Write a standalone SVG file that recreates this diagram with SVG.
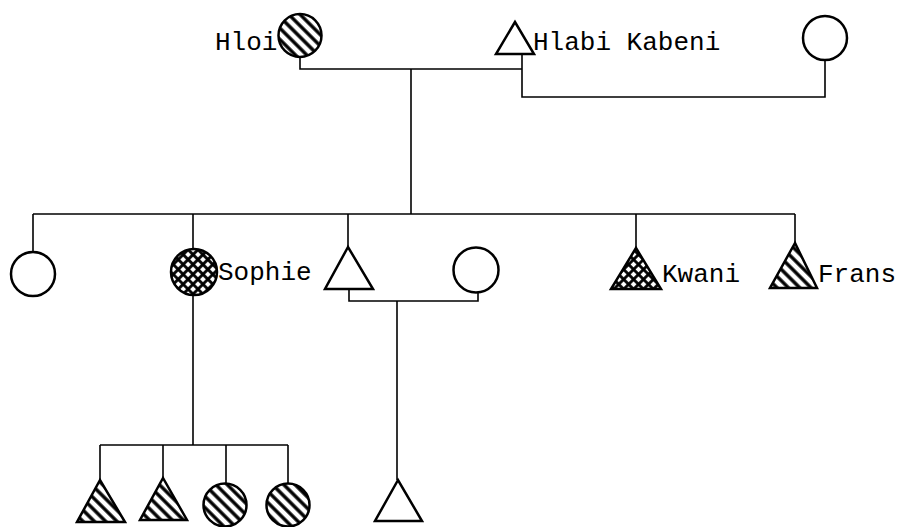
<svg xmlns="http://www.w3.org/2000/svg" width="898" height="527" viewBox="0 0 898 527">
  <defs>
    <pattern id="hatch" patternUnits="userSpaceOnUse" width="8" height="8" patternTransform="rotate(-45)">
      <rect width="8" height="8" fill="#fff"/>
      <line x1="2" y1="0" x2="2" y2="8" stroke="#000" stroke-width="3.4"/>
    </pattern>
    <pattern id="cross" patternUnits="userSpaceOnUse" width="7" height="7" patternTransform="rotate(45)">
      <rect width="7" height="7" fill="#fff"/>
      <line x1="1.5" y1="0" x2="1.5" y2="7" stroke="#000" stroke-width="2.8"/>
      <line x1="0" y1="1.5" x2="7" y2="1.5" stroke="#000" stroke-width="2.8"/>
    </pattern>
  </defs>
  <style>
    .shape { stroke: #000; stroke-width: 2.5; stroke-linejoin: miter; }
    .open { fill: #fff; }
    .hatch { fill: url(#hatch); }
    .cross { fill: url(#cross); }
    .link { fill: none; stroke: #000; stroke-width: 1.6; }
    .label { font-family: "Liberation Mono", "DejaVu Sans Mono", monospace; font-size: 26px; fill: #000; }
  </style>
  <rect width="898" height="527" fill="#fff"/>

  <g id="connectors">
    <!-- first generation unions -->
    <polyline class="link" points="300,57 300,69 522,69"/>
    <polyline class="link" points="522,54 522,97 825,97 825,60"/>
    <line class="link" x1="411" y1="69" x2="411" y2="214"/>
    <!-- sibling line -->
    <line class="link" x1="33" y1="214" x2="795" y2="214"/>
    <line class="link" x1="33" y1="214" x2="33" y2="252"/>
    <line class="link" x1="193" y1="214" x2="193" y2="249"/>
    <line class="link" x1="348" y1="214" x2="348" y2="247"/>
    <line class="link" x1="636" y1="214" x2="636" y2="248"/>
    <line class="link" x1="795" y1="214" x2="795" y2="243"/>
    <!-- second union -->
    <polyline class="link" points="349,289 349,301 478,301 478,292"/>
    <line class="link" x1="397" y1="301" x2="397" y2="480"/>
    <!-- Sophie's children -->
    <line class="link" x1="193" y1="295" x2="193" y2="445"/>
    <line class="link" x1="100" y1="445" x2="288" y2="445"/>
    <line class="link" x1="100" y1="445" x2="100" y2="480"/>
    <line class="link" x1="163" y1="445" x2="163" y2="478"/>
    <line class="link" x1="226" y1="445" x2="226" y2="483"/>
    <line class="link" x1="288" y1="445" x2="288" y2="483"/>
  </g>

  <g id="hloi">
    <circle class="shape hatch" cx="300" cy="35.5" r="21.5"/>
    <text class="label" x="215" y="50">Hloi</text>
  </g>
  <g id="hlabi-kabeni">
    <polygon class="shape open" points="515,22 496,54 534,54"/>
    <text class="label" x="533" y="50">Hlabi Kabeni</text>
  </g>
  <g id="wife-2">
    <circle class="shape open" cx="825" cy="38" r="22"/>
  </g>

  <g id="daughter-1">
    <circle class="shape open" cx="33" cy="274" r="22"/>
  </g>
  <g id="sophie">
    <circle class="shape cross" cx="194" cy="272" r="23"/>
    <text class="label" x="218" y="280">Sophie</text>
  </g>
  <g id="son-1">
    <polygon class="shape open" points="348,247 325,289 373,289"/>
  </g>
  <g id="son-1-wife">
    <circle class="shape open" cx="476" cy="270" r="22.5"/>
  </g>
  <g id="kwani">
    <polygon class="shape cross" points="636,248 611,289 661,289"/>
    <text class="label" x="662" y="282">Kwani</text>
  </g>
  <g id="frans">
    <polygon class="shape hatch" points="795,243 770,288 817,288"/>
    <text class="label" x="818" y="282">Frans</text>
  </g>

  <g id="grandson-1">
    <polygon class="shape hatch" points="100,480 77,522 125,522"/>
  </g>
  <g id="grandson-2">
    <polygon class="shape hatch" points="163,478 140,520 187,520"/>
  </g>
  <g id="granddaughter-1">
    <circle class="shape hatch" cx="225" cy="505" r="21.5"/>
  </g>
  <g id="granddaughter-2">
    <circle class="shape hatch" cx="288" cy="505" r="21.5"/>
  </g>
  <g id="grandson-3">
    <polygon class="shape open" points="398,480 375,521 422,521"/>
  </g>
</svg>
